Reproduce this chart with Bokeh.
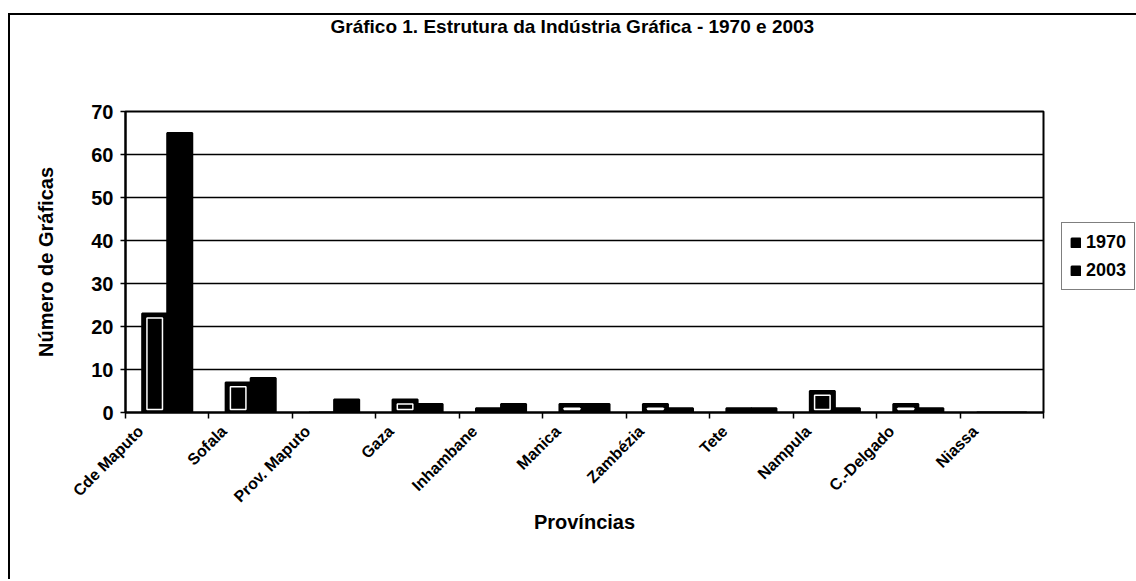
import math
import pandas as pd
from bokeh.plotting import figure
from bokeh.models import (ColumnDataSource, Range1d, FixedTicker, Legend, LegendItem, Title)
from bokeh.transform import dodge
from bokeh.embed import file_html
from bokeh.resources import INLINE

provincias = ["Cde Maputo", "Sofala", "Prov. Maputo", "Gaza", "Inhambane", "Manica",
              "Zambézia", "Tete", "Nampula", "C.-Delgado", "Niassa"]
v1970 = [23, 7, 0, 3, 1, 2, 2, 1, 5, 2, 0]
v2003 = [65, 8, 3, 2, 2, 2, 1, 1, 1, 1, 0]
y_ticks = [0, 10, 20, 30, 40, 50, 60, 70]

FONT = "Liberation Sans"

df = pd.DataFrame({"prov": provincias, "v1970": v1970, "v2003": v2003})
df["x"] = df.index + 0.5
src = ColumnDataSource(df)
inner = df[df["v1970"] >= 2].copy()
inner["top"] = inner["v1970"] - 1.0
src_inner = ColumnDataSource(inner)

p = figure(width=1123, height=564, output_backend="svg", toolbar_location=None,
           x_range=Range1d(0, len(provincias)), y_range=Range1d(0, 70),
           min_border_left=115, min_border_top=96, min_border_bottom=167, min_border_right=90,
           frame_width=918, frame_height=301)
p.styles = {"margin-left": "8px", "margin-top": "13px",
            "border-top": "2px solid black", "border-left": "2px solid black"}

p.title.text = "Gráfico 1. Estrutura da Indústria Gráfica - 1970 e 2003"
p.title.text_font = FONT
p.title.text_font_size = "19px"
p.title.text_font_style = "bold"
p.title.text_color = "black"
p.title.align = "left"
p.title.offset = 205
p.title.standoff = -8

# empty spacer between title and frame
p.add_layout(Title(text=" ", text_font_size="19px", standoff=56), "above")

bw = 0.3
r1970 = p.vbar(x=dodge("x", -0.15), top="v1970", width=bw, source=src,
               fill_color="black", line_color="black", line_width=2)
p.vbar(x=dodge("x", -0.15), top="top", bottom=0.7, width=bw * 0.62, source=src_inner,
       fill_color="black", line_color="white", line_width=1.5)
r2003 = p.vbar(x=dodge("x", 0.15), top="v2003", width=bw, source=src,
               fill_color="black", line_color="black", line_width=2)

# axes
label_pos = [x - 0.32 for x in df["x"]]
p.xaxis.ticker = FixedTicker(ticks=label_pos, minor_ticks=list(range(len(provincias) + 1)))
p.xaxis.major_label_overrides = {float(x): n for x, n in zip(label_pos, provincias)}
p.xaxis.major_tick_line_color = None
p.xaxis.minor_tick_out = 6
p.xaxis.minor_tick_in = 0
p.xaxis.minor_tick_line_color = "black"
p.xaxis.minor_tick_line_width = 1.5
p.xaxis.major_label_orientation = math.pi / 4
p.xaxis.major_label_text_font = FONT
p.xaxis.major_label_text_font_style = "bold"
p.xaxis.major_label_text_font_size = "16px"
p.xaxis.major_label_text_color = "black"
p.xaxis.major_label_standoff = 10
p.xaxis.axis_label = "Províncias"
p.xaxis.axis_label_text_font = FONT
p.xaxis.axis_label_text_font_style = "bold"
p.xaxis.axis_label_text_font_size = "20px"
p.xaxis.axis_label_text_color = "black"
p.xaxis.axis_label_standoff = -3
p.xaxis.axis_line_color = "black"
p.xaxis.axis_line_width = 2

p.yaxis.ticker = FixedTicker(ticks=y_ticks)
p.yaxis.major_tick_out = 5
p.yaxis.major_tick_in = 0
p.yaxis.major_tick_line_color = "black"
p.yaxis.major_tick_line_width = 1.5
p.yaxis.minor_tick_line_color = None
p.yaxis.major_label_text_font = FONT
p.yaxis.major_label_text_font_style = "bold"
p.yaxis.major_label_text_font_size = "20px"
p.yaxis.major_label_text_color = "black"
p.yaxis.major_label_standoff = 7
p.yaxis.axis_label = "Número de Gráficas"
p.yaxis.axis_label_text_font = FONT
p.yaxis.axis_label_text_font_style = "bold"
p.yaxis.axis_label_text_font_size = "20px"
p.yaxis.axis_label_text_color = "black"
p.yaxis.axis_label_standoff = 31
p.yaxis.axis_line_color = "black"
p.yaxis.axis_line_width = 2

p.xgrid.grid_line_color = None
p.ygrid.grid_line_color = "black"
p.ygrid.grid_line_width = 1.5
p.outline_line_color = "black"
p.outline_line_width = 2

legend = Legend(items=[LegendItem(label="1970", renderers=[r1970]),
                       LegendItem(label="2003", renderers=[r2003])],
                location=(18, 122), margin=0, padding=8, spacing=6,
                glyph_width=11, glyph_height=11, label_standoff=5, label_height=22,
                label_text_font=FONT, label_text_font_style="bold",
                label_text_font_size="18px", label_text_color="black",
                border_line_color="black", border_line_width=1.5)
p.add_layout(legend, "right")

open("out.html", "w").write(file_html(p, INLINE))
